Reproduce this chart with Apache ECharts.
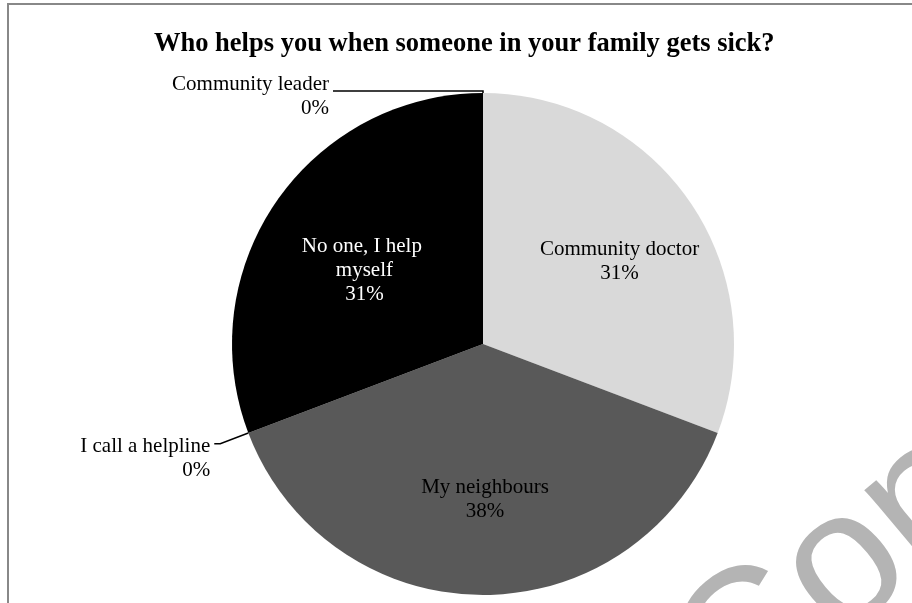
<!DOCTYPE html>
<html>
<head>
<meta charset="utf-8">
<script src="https://cdn.jsdelivr.net/npm/echarts@6/dist/echarts.min.js"></script>
<style>
html,body{margin:0;padding:0;background:#fff;}
#chart{width:912px;height:603px;}
</style>
</head>
<body>
<div id="chart"></div>
<script>
var titleText = 'Who helps you when someone in your family gets sick?';
var categories = ['Community doctor', 'My neighbours', 'I call a helpline', 'No one, I help myself', 'Community leader'];
var values = [8, 10, 0, 8, 0];
var colors = ['#d9d9d9', '#595959', '#7f7f7f', '#000000', '#a5a5a5'];
var insideLabelColors = ['#000000', '#000000', '#000000', '#ffffff', '#000000'];
var watermarkText = 'Con';

var serif = '"Liberation Serif", "Times New Roman", serif';
var CX = 483, CY = 344, R = 251;

// Base pie: draws the slices and the outside labels of the zero slices
var baseData = categories.map(function (name, i) {
  var item = { name: name, value: values[i], itemStyle: { color: colors[i] } };
  if (values[i] === 0) {
    item.label = { show: true };
    item.labelLine = { show: true };
  } else {
    item.label = { show: false };
    item.labelLine = { show: false };
  }
  return item;
});
// leader styling for the two zero slices
baseData[4].labelLine.length = 2;
baseData[4].labelLine.length2 = 150;
baseData[4].label.formatter = '{s10| }\n{b}\n{d}%';
baseData[2].labelLine.length = 30;
baseData[2].labelLine.length2 = 6;
baseData[2].label.formatter = '{s30| }\n{b}\n{d}%';

// Overlay (transparent) pie that only carries the inside labels
var labelData = categories.map(function (name, i) {
  var item = { name: name, value: values[i], itemStyle: { color: 'rgba(0,0,0,0)' } };
  item.label = { show: values[i] > 0, color: insideLabelColors[i] };
  return item;
});
labelData[0].label.offset = [9, 6];
labelData[1].label.offset = [2, 0];
labelData[3].label.offset = [9, 15];
labelData[3].label.width = 135;
labelData[3].label.overflow = 'break';

var chart = echarts.init(document.getElementById('chart'), null, { renderer: 'canvas' });
chart.setOption({
  backgroundColor: '#ffffff',
  animation: false,
  title: {
    text: titleText,
    left: 149,
    top: 26,
    textStyle: { fontFamily: serif, fontWeight: 'bold', fontSize: 26.5, color: '#000' }
  },
  graphic: [
    {
      type: 'rect',
      shape: { x: 8, y: 4, width: 940, height: 640 },
      style: { fill: 'none', stroke: '#888888', lineWidth: 2 },
      silent: true,
      z: 100
    },
    {
      type: 'text',
      x: 701, y: 689,
      rotation: 40 * Math.PI / 180,
      style: {
        text: watermarkText,
        font: '188px "Liberation Sans", Arial, sans-serif',
        fill: '#b4b4b4',
        textAlign: 'left',
        textVerticalAlign: 'middle',
        verticalAlign: 'middle'
      },
      silent: true,
      z: 50
    }
  ],
  series: [
    {
      type: 'pie',
      center: [CX, CY],
      radius: R,
      startAngle: 90,
      clockwise: true,
      avoidLabelOverlap: false,
      percentPrecision: 0,
      silent: true,
      itemStyle: { borderWidth: 0 },
      label: {
        position: 'outside',
        formatter: '{b}\n{d}%',
        fontFamily: serif,
        fontSize: 21,
        lineHeight: 24,
        color: '#000',
        distanceToLabelLine: 4,
        rich: {
          s10: { fontSize: 4, lineHeight: 10, height: 10 },
          s30: { fontSize: 4, lineHeight: 30, height: 30 }
        }
      },
      labelLine: {
        show: true,
        lineStyle: { color: '#000', width: 1.5 },
        smooth: false
      },
      emphasis: { disabled: true },
      data: baseData
    },
    {
      type: 'pie',
      center: [CX, CY],
      radius: [53, R],
      startAngle: 90,
      clockwise: true,
      avoidLabelOverlap: false,
      percentPrecision: 0,
      silent: true,
      itemStyle: { borderWidth: 0 },
      label: {
        position: 'inside',
        formatter: '{b}\n{d}%',
        fontFamily: serif,
        fontSize: 21,
        lineHeight: 24,
        align: 'center'
      },
      labelLine: { show: false },
      emphasis: { disabled: true },
      data: labelData
    }
  ]
});
</script>
</body>
</html>
